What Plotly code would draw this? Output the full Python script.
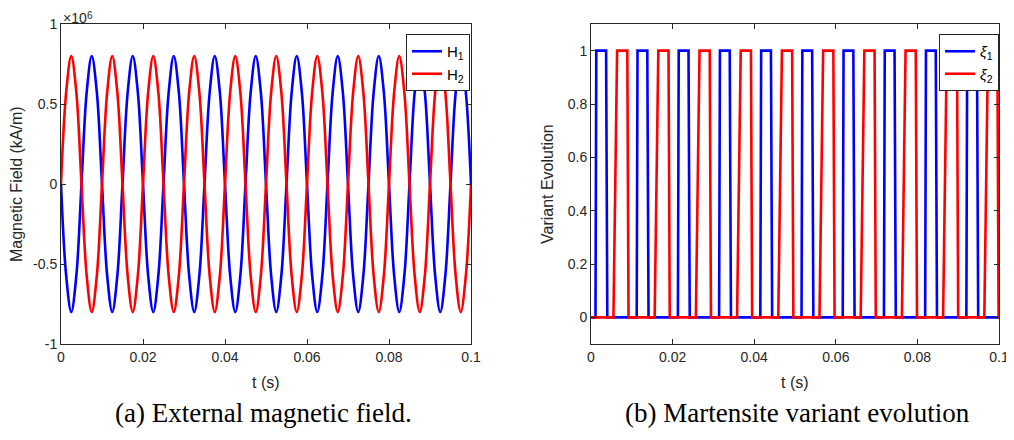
import plotly.graph_objects as go

# ---------------- data ----------------
# (a) magnetic field samples, values in units of 1e6 kA/m
t_field = [
    0, 0.00125, 0.0025, 0.00375, 0.005, 0.00625, 0.0075, 0.00875,
    0.01, 0.01125, 0.0125, 0.01375, 0.015, 0.01625, 0.0175, 0.01875,
    0.02, 0.02125, 0.0225, 0.02375, 0.025, 0.02625, 0.0275, 0.02875,
    0.03, 0.03125, 0.0325, 0.03375, 0.035, 0.03625, 0.0375, 0.03875,
    0.04, 0.04125, 0.0425, 0.04375, 0.045, 0.04625, 0.0475, 0.04875,
    0.05, 0.05125, 0.0525, 0.05375, 0.055, 0.05625, 0.0575, 0.05875,
    0.06, 0.06125, 0.0625, 0.06375, 0.065, 0.06625, 0.0675, 0.06875,
    0.07, 0.07125, 0.0725, 0.07375, 0.075, 0.07625, 0.0775, 0.07875,
    0.08, 0.08125, 0.0825, 0.08375, 0.085, 0.08625, 0.0875, 0.08875,
    0.09, 0.09125, 0.0925, 0.09375, 0.095, 0.09625, 0.0975, 0.09875,
    0.1,
]
h1 = [
    0, -0.57, -0.8, -0.57, 0, 0.57, 0.8, 0.57,
    0, -0.57, -0.8, -0.57, 0, 0.57, 0.8, 0.57,
    0, -0.57, -0.8, -0.57, 0, 0.57, 0.8, 0.57,
    0, -0.57, -0.8, -0.57, 0, 0.57, 0.8, 0.57,
    0, -0.57, -0.8, -0.57, 0, 0.57, 0.8, 0.57,
    0, -0.57, -0.8, -0.57, 0, 0.57, 0.8, 0.57,
    0, -0.57, -0.8, -0.57, 0, 0.57, 0.8, 0.57,
    0, -0.57, -0.8, -0.57, 0, 0.57, 0.8, 0.57,
    0, -0.57, -0.8, -0.57, 0, 0.57, 0.8, 0.57,
    0, -0.57, -0.8, -0.57, 0, 0.57, 0.8, 0.57,
    0,
]
h2 = [
    0, 0.57, 0.8, 0.57, 0, -0.57, -0.8, -0.57,
    0, 0.57, 0.8, 0.57, 0, -0.57, -0.8, -0.57,
    0, 0.57, 0.8, 0.57, 0, -0.57, -0.8, -0.57,
    0, 0.57, 0.8, 0.57, 0, -0.57, -0.8, -0.57,
    0, 0.57, 0.8, 0.57, 0, -0.57, -0.8, -0.57,
    0, 0.57, 0.8, 0.57, 0, -0.57, -0.8, -0.57,
    0, 0.57, 0.8, 0.57, 0, -0.57, -0.8, -0.57,
    0, 0.57, 0.8, 0.57, 0, -0.57, -0.8, -0.57,
    0, 0.57, 0.8, 0.57, 0, -0.57, -0.8, -0.57,
    0, 0.57, 0.8, 0.57, 0, -0.57, -0.8, -0.57,
    0,
]
FIELD_SCALE = 1e6

# (b) martensite variant pulses (times where each variant sits at 1)
xi1_rise0 = [0.0011, 0.0112, 0.0213, 0.0314, 0.0415, 0.0516, 0.0617, 0.0718, 0.0819, 0.0920]
xi1_top0 = [0.0013, 0.0114, 0.0215, 0.0316, 0.0417, 0.0518, 0.0619, 0.0720, 0.0821, 0.0922]
xi1_top1 = [0.0037, 0.0138, 0.0239, 0.0340, 0.0441, 0.0542, 0.0643, 0.0744, 0.0845, 0.0946]
xi1_fall1 = [0.0040, 0.0141, 0.0242, 0.0343, 0.0444, 0.0545, 0.0646, 0.0747, 0.0848, 0.0949]

xi2_rise0 = [0.0055, 0.0156, 0.0257, 0.0358, 0.0459, 0.0560, 0.0661, 0.0762, 0.0863, 0.0964]
xi2_top0 = [0.0064, 0.0165, 0.0266, 0.0367, 0.0468, 0.0569, 0.0670, 0.0771, 0.0872, 0.0973]
xi2_top1 = [0.0089, 0.0190, 0.0291, 0.0392, 0.0493, 0.0594, 0.0695, 0.0796, 0.0897, 0.0996]
xi2_fall1 = [0.0092, 0.0193, 0.0294, 0.0395, 0.0496, 0.0597, 0.0698, 0.0799, 0.0900, 0.0999]

T_END = 0.1

x_ticks = [0, 0.02, 0.04, 0.06, 0.08, 0.1]
x_ticktext = ["0", "0.02", "0.04", "0.06", "0.08", "0.1"]
yl_ticks = [-1, -0.5, 0, 0.5, 1]
yl_ticktext = ["-1", "-0.5", "0", "0.5", "1"]
yr_ticks = [0, 0.2, 0.4, 0.6, 0.8, 1]
yr_ticktext = ["0", "0.2", "0.4", "0.6", "0.8", "1"]


def pulse_series(r0, t0, t1, f1):
    xs, ys = [0.0], [0.0]
    for a, b, c, d in zip(r0, t0, t1, f1):
        xs += [a, b, c, d]
        ys += [0, 1, 1, 0]
    xs.append(T_END)
    ys.append(0)
    return xs, ys


xi1_t, xi1_v = pulse_series(xi1_rise0, xi1_top0, xi1_top1, xi1_fall1)
xi2_t, xi2_v = pulse_series(xi2_rise0, xi2_top0, xi2_top1, xi2_fall1)

# ---------------- figure ----------------
# page body has an 8px margin, so the figure is placed at (8, 8) in the window
OFF = 8
WIN_W, WIN_H = 1014, 440
W, H = WIN_W - OFF, WIN_H - OFF
BLUE = "#0000FF"
RED = "#FF0000"
AX = "#262626"
SANS = "Liberation Sans, Arial, sans-serif"
SERIF = "Liberation Serif, Times New Roman, serif"

fig = go.Figure()

fig.add_trace(go.Scatter(
    x=t_field, y=[v * FIELD_SCALE for v in h1], mode="lines",
    line=dict(color=BLUE, width=2.6, shape="spline", smoothing=1.0),
    name="H<sub>1</sub>", xaxis="x", yaxis="y", legend="legend"))
fig.add_trace(go.Scatter(
    x=t_field, y=[v * FIELD_SCALE for v in h2], mode="lines",
    line=dict(color=RED, width=2.6, shape="spline", smoothing=1.0),
    name="H<sub>2</sub>", xaxis="x", yaxis="y", legend="legend"))

fig.add_trace(go.Scatter(
    x=xi1_t, y=xi1_v, mode="lines", line=dict(color=BLUE, width=2.6),
    name="<i>ξ</i><sub>1</sub>", xaxis="x2", yaxis="y2", legend="legend2"))
fig.add_trace(go.Scatter(
    x=xi2_t, y=xi2_v, mode="lines", line=dict(color=RED, width=2.6),
    name="<i>ξ</i><sub>2</sub>", xaxis="x2", yaxis="y2", legend="legend2"))


def px_x(p):
    return (p - OFF) / W


def px_y(p):
    return (H - (p - OFF)) / H


L0, L1 = 61, 471
R0, R1 = 591, 999
TOP, BOT = 24, 344

axis_common = dict(
    showline=True, linecolor=AX, linewidth=1, mirror="ticks",
    ticks="inside", ticklen=5, tickcolor=AX, tickwidth=1,
    showgrid=False, zeroline=False, automargin=False,
    tickfont=dict(family=SANS, size=14, color=AX),
)

legend_common = dict(
    xanchor="right", yanchor="top",
    bgcolor="white", bordercolor=AX, borderwidth=1,
    font=dict(family=SANS, size=15, color="black"),
    itemwidth=30, tracegroupgap=0,
)

fig.update_layout(
    template="none",
    width=W, height=H,
    margin=dict(l=0, r=0, t=0, b=0, autoexpand=False),
    paper_bgcolor="white", plot_bgcolor="white",
    showlegend=True,
    xaxis=dict(domain=[px_x(L0), px_x(L1)], range=[0, 0.1], anchor="y",
               tickvals=x_ticks, ticktext=x_ticktext, **axis_common),
    yaxis=dict(domain=[px_y(BOT), px_y(TOP)], range=[-1 * FIELD_SCALE, 1 * FIELD_SCALE],
               anchor="x", tickvals=[v * FIELD_SCALE for v in yl_ticks],
               ticktext=yl_ticktext, **axis_common),
    xaxis2=dict(domain=[px_x(R0), px_x(R1)], range=[0, 0.1], anchor="y2",
                tickvals=x_ticks, ticktext=x_ticktext, **axis_common),
    yaxis2=dict(domain=[px_y(BOT), px_y(TOP)], range=[-0.1, 1.1], anchor="x2",
                tickvals=yr_ticks, ticktext=yr_ticktext, **axis_common),
    legend=dict(x=px_x(L1 - 1), y=px_y(34), **legend_common),
    legend2=dict(x=px_x(R1), y=px_y(34), **legend_common),
)

annos = [
    dict(text="×10", x=px_x(L0), y=px_y(18), xanchor="left", yanchor="middle",
         font=dict(family=SANS, size=14, color=AX)),
    dict(text="6", x=px_x(L0 + 24), y=px_y(15), xanchor="left", yanchor="middle",
         font=dict(family=SANS, size=10, color=AX)),
    dict(text="Magnetic Field (kA/m)", x=px_x(16), y=px_y((TOP + BOT) / 2), textangle=-90,
         xanchor="center", yanchor="middle", font=dict(family=SANS, size=16, color=AX)),
    dict(text="t (s)", x=px_x((L0 + L1) / 2), y=px_y(382), xanchor="center", yanchor="middle",
         font=dict(family=SANS, size=16, color=AX)),
    dict(text="Variant Evolution", x=px_x(547), y=px_y((TOP + BOT) / 2), textangle=-90,
         xanchor="center", yanchor="middle", font=dict(family=SANS, size=16, color=AX)),
    dict(text="t (s)", x=px_x((R0 + R1) / 2), y=px_y(382), xanchor="center", yanchor="middle",
         font=dict(family=SANS, size=16, color=AX)),
    dict(text="(a) External magnetic field.", x=px_x(264), y=px_y(413), xanchor="center",
         yanchor="middle", font=dict(family=SERIF, size=27, color="black")),
    dict(text="(b) Martensite variant evolution", x=px_x(797), y=px_y(413), xanchor="center",
         yanchor="middle", font=dict(family=SERIF, size=27, color="black")),
]
for a in annos:
    a.update(xref="paper", yref="paper", showarrow=False)
fig.update_layout(annotations=annos)

fig.write_html("out.html")
